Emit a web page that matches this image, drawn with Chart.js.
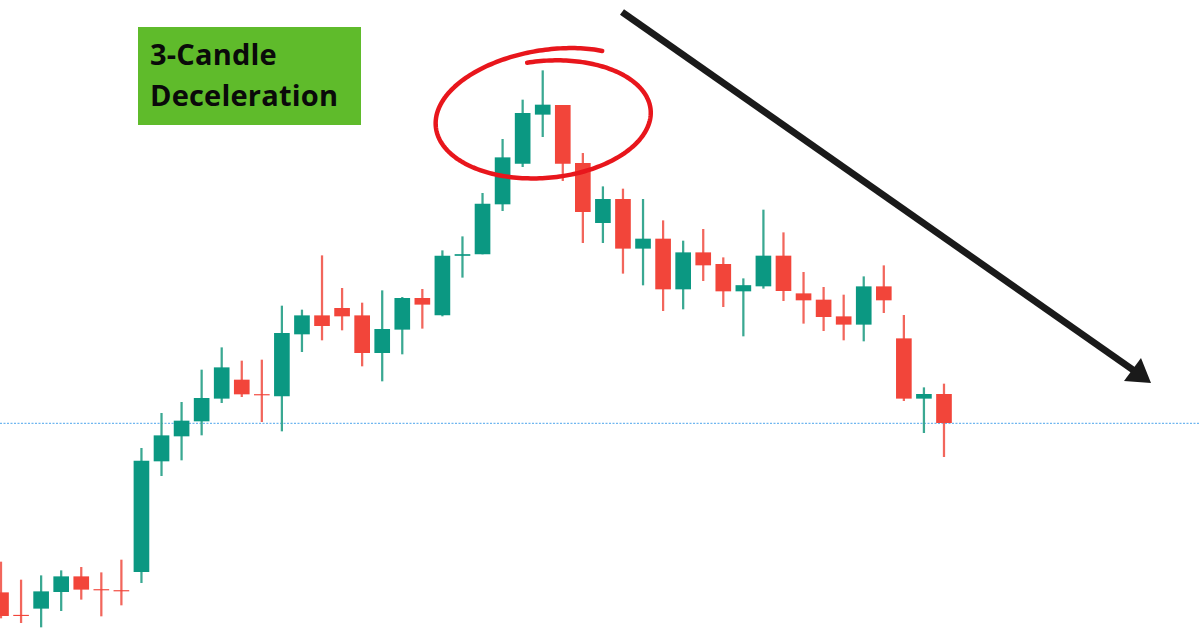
<!DOCTYPE html>
<html>
<head>
<meta charset="utf-8">
<script src="https://cdn.jsdelivr.net/npm/chart.js@4.4.1/dist/chart.umd.min.js"></script>
<style>
  html, body { margin: 0; padding: 0; background: #ffffff; }
  #wrap { position: relative; width: 1200px; height: 628px; overflow: hidden; }
  #c { position: absolute; left: 0; top: 0; }
  #label {
    position: absolute; left: 138px; top: 27px; width: 223px; height: 98px;
    background: #5fbb2b; box-sizing: border-box; padding: 6px 0 0 12px;
    font-family: "Open Sans", "Noto Sans", sans-serif; font-weight: 700;
    font-size: 29px; line-height: 41px; color: #0a0a0a; letter-spacing: 0.2px;
  }
</style>
</head>
<body>
<div id="wrap">
  <canvas id="c" width="1200" height="628"></canvas>
  <div id="label">3-Candle<br>Deceleration</div>
</div>
<script>
// Candle index (one per bar)
const candleIndex = [0,1,2,3,4,5,6,7,8,9,10,11,12,13,14,15,16,17,18,19,20,21,22,23,
  24,25,26,27,28,29,30,31,32,33,34,35,36,37,38,39,40,41,42,43,44,45,46,47];
const openValues = [35.3,12.8,19.7,36.3,51.3,38.5,37.5,56.3,167,192,207,229.7,248,233.5,232,294,
  312.3,319.7,312.3,275.3,298.7,329.7,313,372.5,374,424,464.7,513.7,522.7,464.7,405.3,428.7,
  379.7,389,339,375.3,363.7,337,342,372,334.3,328,311.3,303.7,341.3,289.3,229.7,233.7];
const highValues = [66,48,52.3,57.3,60.7,55.3,68,179.7,214.7,225.7,258,280.3,267,268,322,318,
  372.3,339.7,325,337.3,330.7,338.7,377.3,391.3,434.7,488.7,528,557.3,522.7,474.7,441.3,439,
  428.7,407.3,387,398.7,370.3,349.3,418,395.3,355.7,340.7,333,351.3,362.3,312.7,240.3,244];
const lowValues = [10,5.3,1,17.3,28.7,12,23,45.3,152.3,168,193,225.3,231.3,206.3,197,276.3,
  288,298,262,247,274,299.7,312,350.7,374,417.3,461.3,491.3,447.3,385.3,385.3,354.7,
  343,317.3,319,347.3,321.3,292,339.7,327.3,304.7,297.3,288,287,315.3,227.3,195.3,171.3];
const closeValues = [12.3,12.3,36.3,51.3,38.7,38,37,167,192.3,207,229.7,260.3,234,233,294.7,312.3,
  302.3,312,275.3,298.7,329.7,323.7,372,373.5,424,470.3,514.7,523,464.7,416.3,428.7,379.7,
  389,339,375.3,363,337,342.5,372,337.3,328,311.3,303.7,341.3,328,229.7,233.7,205.3];
// Horizontal dotted reference level
const levelValue = [204.7];

const UP = '#0b9882', DOWN = '#f2453a';
const UP_WICK = '#3aa892', DOWN_WICK = '#f2665c';
const X_MIN = -0.05, X_MAX = 59.76;

const isUp = candleIndex.map(i => closeValues[i] >= openValues[i]);
const bodyData = candleIndex.map(i => ({ x: i, y: [openValues[i], closeValues[i]] }));
const wickData = candleIndex.map(i => ({ x: i, y: [lowValues[i], highValues[i]] }));

const annotations = {
  id: 'annotations',
  afterDraw(chart) {
    const ctx = chart.ctx;
    ctx.save();
    // red hand-drawn spiral ellipse
    ctx.strokeStyle = '#e8161c';
    ctx.lineCap = 'round';
    ctx.lineJoin = 'round';
    ctx.lineWidth = 4.5;
    const cx = 545, cy = 118, rot = -0.08;
    const t0 = -0.98, t1 = t0 - 2 * Math.PI - 0.72;
    const steps = 260;
    ctx.beginPath();
    for (let s = 0; s <= steps; s++) {
      const f = s / steps;
      const t = t0 + (t1 - t0) * f;
      const rx = 112 - 8 * f;
      const ry = 57 + 6 * (1 - f) + 12 * Math.exp(-f / 0.1);
      const ex = rx * Math.cos(t), ey = ry * Math.sin(t);
      const px = cx + ex * Math.cos(rot) - ey * Math.sin(rot);
      const py = cy + ex * Math.sin(rot) + ey * Math.cos(rot);
      if (s === 0) ctx.moveTo(px, py); else ctx.lineTo(px, py);
    }
    ctx.stroke();
    // black arrow
    ctx.strokeStyle = '#1a1a1a';
    ctx.fillStyle = '#1a1a1a';
    ctx.lineWidth = 7;
    ctx.lineCap = 'butt';
    ctx.beginPath();
    ctx.moveTo(622, 12);
    ctx.lineTo(1136, 372);
    ctx.stroke();
    ctx.beginPath();
    ctx.moveTo(1151, 383);
    ctx.lineTo(1124, 381);
    ctx.lineTo(1141, 358);
    ctx.closePath();
    ctx.fill();
    ctx.restore();
  }
};

new Chart(document.getElementById('c'), {
  data: {
    datasets: [
      {
        type: 'line',
        data: [{ x: X_MIN, y: levelValue[0] }, { x: X_MAX, y: levelValue[0] }],
        borderColor: '#6fb6f0', borderWidth: 1.3, borderDash: [2, 1.5],
        pointRadius: 0, order: 3
      },
      {
        type: 'bar',
        data: wickData,
        backgroundColor: candleIndex.map(i => isUp[i] ? UP_WICK : DOWN_WICK),
        barThickness: 1.6, grouped: false, order: 2, borderWidth: 0
      },
      {
        type: 'bar',
        data: bodyData,
        backgroundColor: candleIndex.map(i => isUp[i] ? UP : DOWN),
        barThickness: 15, grouped: false, order: 1, borderWidth: 0
      }
    ]
  },
  options: {
    responsive: false,
    animation: false,
    layout: { padding: 0 },
    scales: {
      x: { type: 'linear', min: X_MIN, max: X_MAX, display: false, offset: false },
      y: { type: 'linear', min: 0, max: 628, display: false }
    },
    plugins: { legend: { display: false }, tooltip: { enabled: false } }
  },
  plugins: [annotations]
});
</script>
</body>
</html>
